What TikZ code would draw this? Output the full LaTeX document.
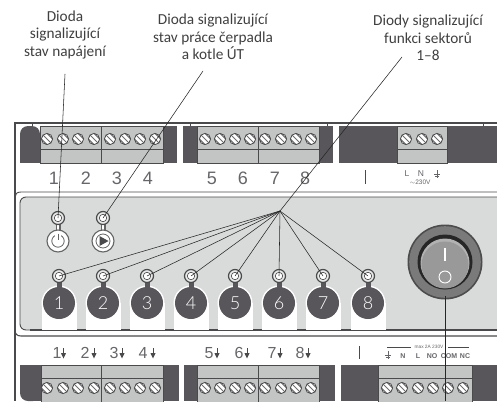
\documentclass[tikz,border=0pt]{standalone}
\usepackage{fontspec}
\setmainfont{Carlito}
\newfontfamily\numfont{Liberation Sans}
\newfontfamily\btnfont{Lato Light}
\definecolor{darkblk}{HTML}{58565A}
\definecolor{termgray}{HTML}{C2C5C4}
\definecolor{panelgray}{HTML}{D9DBDA}
\definecolor{framegray}{HTML}{4A4A4C}
\definecolor{labgray}{HTML}{66666A}
\tikzset{
  callout/.style={align=center,font=\fontsize{15.3}{17.6}\selectfont,text=black!75,inner sep=0pt},
  leader/.style={draw=black!85,line width=0.55pt},
  frameline/.style={draw=framegray,line width=0.9pt},
  termdark/.style={fill=darkblk,draw=none},
  termgrey/.style={fill=termgray,draw=framegray,line width=0.7pt},
  termline/.style={draw=framegray,line width=0.7pt},
  topnum/.style={font=\numfont\fontsize{18}{18}\selectfont,text=labgray,inner sep=0pt},
  botnum/.style={font=\numfont\fontsize{16}{16}\selectfont,text=labgray,inner sep=0pt},
  smallnum/.style={font=\numfont\fontsize{8.5}{8.5}\selectfont,text=labgray,inner sep=0pt},
  smallbold/.style={font=\numfont\bfseries\fontsize{7}{7}\selectfont,text=labgray,inner sep=0pt},
  tiny230/.style={font=\numfont\fontsize{6.5}{6.5}\selectfont,text=labgray,inner sep=0pt},
  ledouter/.style={circle,minimum size=13pt,inner sep=0pt,fill=panelgray!60,draw=framegray,line width=1.2pt},
  ledinner/.style={circle,minimum size=7.5pt,inner sep=0pt,fill=white,draw=framegray,line width=0.6pt},
  btnnum/.style={circle,minimum size=32pt,inner sep=0pt,fill=darkblk,text=white,font=\btnfont\fontsize{18}{18}\selectfont},
  whitebtn/.style={circle,minimum size=22pt,inner sep=0pt,fill=white,draw=framegray!85,line width=1.1pt},
}
\newcommand{\screw}[2]{%
  \begin{scope}
    \fill[white] (#1,#2) circle (5.6);
    \clip (#1,#2) circle (5.6);
    \foreach \d in {-2.8,0,2.8}{
      \draw[framegray!80,line width=1pt] ({#1-7+\d},{#2-7-\d}) -- ({#1+7+\d},{#2+7-\d});
    }
  \end{scope}
  \draw[framegray,line width=0.8pt] (#1,#2) circle (5.6);
}
\newcommand{\gnd}[2]{%
  \draw[labgray,line width=0.7pt] (#1,{#2-4}) -- (#1,{#2+4});
  \draw[labgray,line width=0.7pt] ({#1-3},{#2+0.5}) -- ({#1+3},{#2+0.5});
  \draw[labgray,line width=0.7pt] ({#1-2},{#2+2.5}) -- ({#1+2},{#2+2.5});
}
\newcommand{\downarr}[1]{%
  \draw[framegray,line width=1pt] (#1,348) -- (#1,354);
  \fill[framegray] ({#1-2.6},353) -- ({#1+2.6},353) -- (#1,358.5) -- cycle;
}
\begin{document}
\begin{tikzpicture}[x=1pt,y=-1pt]
\useasboundingbox (0,0) rectangle (497,401);
\fill[white] (0,0) rectangle (497,401);

% callouts
\node[callout] (t1) at (65,35) {Dioda\\signalizující\\stav napájení};
\node[callout] (t2) at (213,37) {Dioda signalizující\\stav práce čerpadla\\a kotle ÚT};
\node[callout] (t3) at (428,38) {Diody signalizující\\funkci sektorů\\1–8};

% outer frame
\draw[frameline,line width=1.2pt] (497,123) -- (15,123) -- (15,401);
\draw[frameline] (32,123) -- (32,126) (190,123) -- (190,126) (327,123) -- (327,126) (483,123) -- (483,126);
\draw[frameline] (497,192) -- (21,192) .. controls (17,192) and (15,194) .. (15,197);
\draw[frameline,line width=1.1pt] (15,330) .. controls (15,334) and (17,336) .. (21,336) -- (497,336);

% top terminal blocks
\fill[termdark,rounded corners=8pt] (40,126) -- (20,126) -- (20,170) -- (40,170) -- cycle;
\fill[white] (19,163) rectangle (41,171);
\fill[termdark] (163,126) rectangle (177,163);
\fill[termgrey] (40,126) rectangle (163,163);
\draw[termline] (40,149) -- (163,149) (101,126) -- (101,163);
\fill[termdark] (183,126) rectangle (197,163);
\fill[termdark] (319,126) rectangle (333,163);
\fill[termgrey] (197,126) rectangle (319,163);
\draw[termline] (197,149) -- (319,149) (258,126) -- (258,163);
\fill[termdark] (339,126) rectangle (497,163);
\fill[termgrey] (397,126) rectangle (447,163);
\draw[termline] (397,149) -- (447,149);
\foreach \x in {47,63,78,94,110,125,140,155,205,220,235,250,265,281,296,311,406,422,437}{\screw{\x}{139}}

% top numbers
\node[topnum] (n1) at (54,178) {1};
\node[topnum] (n2) at (86,178) {2};
\node[topnum] (n3) at (117,178) {3};
\node[topnum] (n4) at (148,178) {4};
\node[topnum] (n5) at (212,178) {5};
\node[topnum] (n6) at (243,178) {6};
\node[topnum] (n7) at (275,178) {7};
\node[topnum] (n8) at (305,178) {8};
\draw[framegray,line width=0.8pt] (365,170) -- (365,184);
\node[smallnum] (pl) at (407,174) {L};
\node[smallnum] (pn) at (421,174) {N};
\gnd{437}{174}
\node[tiny230] (pv) at (420,182) {$\sim$230V};

% panel
\path[fill=panelgray,draw=framegray,line width=0.9pt,rounded corners=6pt] (510,197) -- (20,197) -- (20,330) -- (510,330);
\draw[framegray,line width=1.1pt] (30,330) -- (497,330);

% white tabs, buttons and LEDs
\foreach \x/\n in {59/1,103/2,147/3,191/4,235/5,279/6,323/7,368/8}{
  \fill[white] (\x,303) circle (17.5);
  \fill[white] ({\x-17.5},303) rectangle ({\x+17.5},329.6);
  \fill[darkblk] ({\x-2.5},278) rectangle ({\x+2.5},292);
  \node[btnnum] (b\n) at (\x,303) {\n};
  \node[ledouter] (lo\n) at (\x,276) {};
  \node[ledinner] (led\n) at (\x,276) {};
}
% power and pump buttons
\fill[framegray!85] (55.5,222) rectangle (60.5,234);
\fill[white] (56.7,222) rectangle (59.3,234);
\fill[framegray!85] (100.5,222) rectangle (105.5,234);
\fill[white] (101.7,222) rectangle (104.3,234);
\node[whitebtn] (pw) at (58,241) {};
\node[whitebtn] (pu) at (103,241) {};
\draw[framegray!85,line width=0.8pt] (58,241) circle (6.2);
\fill[white] (55.2,233) rectangle (60.8,238);
\draw[framegray!85,line width=0.8pt] (58,233.5) -- (58,240);
\draw[framegray!85,line width=0.8pt] (103,241) circle (7);
\fill[framegray] (99.5,236) -- (108.5,241) -- (99.5,246) -- cycle;
\node[ledouter] (lp) at (58,218) {};
\node[ledinner] (ledp) at (58,218) {};
\node[ledouter] (lc) at (103,218) {};
\node[ledinner] (ledc) at (103,218) {};

% switch
\coordinate (sw) at (445,262);
\fill[black!70] (sw) circle (37.5);
\fill[black!52] (sw) circle (35.8);
\fill[black!85] (445,262) circle (27.5);
\fill[black!30] (445,263) circle (24.5);
\fill[black!40] (445,265) circle (23.5);
\draw[white,line width=1.2pt] (445,248) -- (445,261);
\draw[white,line width=0.9pt] (445,277) circle (6);
\coordinate (swb) at (445,296);

% bottom labels
\foreach \x/\n in {57/1,85/2,114/3,143/4,209/5,239/6,272/7,300/8}{
  \node[botnum] (bl\n) at (\x,353) {\n};
}
\foreach \x in {63.5,94,122,153,217,247,280,308}{\downarr{\x}}
\draw[framegray,line width=0.8pt] (359,346) -- (359,359);
\node[tiny230,font=\numfont\fontsize{4.8}{4.8}\selectfont] (maxl) at (429,347) {max 2A 230V};
\draw[framegray,line width=0.6pt] (387,347) -- (411,347) (448,347) -- (469,347);
\gnd{388}{355}
\node[smallbold] (sn) at (403,356) {N};
\node[smallbold] (sl) at (418,356) {L};
\node[smallbold] (sno) at (432,356) {NO};
\node[smallbold] (sc) at (449,356) {COM};
\node[smallbold] (snc) at (465,356) {NC};

% bottom terminal blocks
\begin{scope}
\clip (0,365) rectangle (497,401);
\fill[termdark,rounded corners=8pt] (41,358) -- (20,358) -- (20,401) -- (41,401) -- cycle;
\fill[termdark] (33,390) rectangle (41,401);
\fill[termdark] (163,365) rectangle (179,401);
\fill[termgrey] (41,365) rectangle (163,402);
\draw[termline] (41,378) -- (163,378) (101,365) -- (101,402);
\fill[termdark] (184,365) rectangle (335,401);
\fill[termgrey] (197,365) rectangle (319,402);
\draw[termline] (197,378) -- (319,378) (258,365) -- (258,402);
\fill[termdark] (341,365) rectangle (497,401);
\fill[termgrey] (378,365) rectangle (472,402);
\draw[termline] (378,378) -- (472,378);
\end{scope}
\foreach \x in {47,63,78,94,110,125,140,155,205,220,235,250,265,281,296,311,387,402,418,433,448,463}{\screw{\x}{388}}

% connectors
\coordinate (p1) at (65,74);
\coordinate (p2) at (203,71);
\coordinate (p3) at (402,57);
\coordinate (hub) at (280,211);
\coordinate (pend) at (445,401);
\draw[leader] (p1) -- (ledp.center);
\draw[leader] (p2) -- (ledc.center);
\draw[leader] (p3) -- (hub);
\foreach \n in {1,...,8}{\draw[leader] (hub) -- (led\n.center);}
\draw[leader] (swb) -- (pend);
\end{tikzpicture}
\end{document}
